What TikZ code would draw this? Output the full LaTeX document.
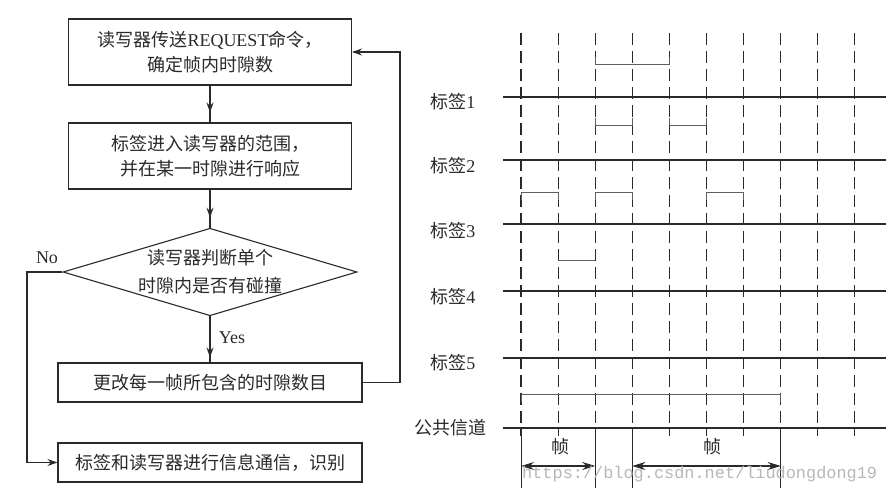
\documentclass[tikz,border=0pt]{standalone}
\usepackage{fontspec}
\setmainfont{Liberation Serif}
\newfontfamily\cjk{Noto Sans CJK SC}
\newfontfamily\wmfont{Liberation Mono}
\usetikzlibrary{shapes.geometric,arrows.meta}
\definecolor{ink}{HTML}{2A2A2A}
\definecolor{pulsec}{HTML}{606060}
\begin{document}
\begin{tikzpicture}[x=1pt,y=-1pt,
  box/.style={draw=ink, line width=1.1pt, inner sep=0pt, align=center, text=ink,
              font=\fontsize{18}{25}\selectfont},
  dia/.style={diamond, draw=ink, line width=1.1pt, inner sep=0pt, aspect=3.36,
              minimum width=292pt, minimum height=87pt, align=center, text=ink,
              font=\fontsize{18}{28}\selectfont},
  conn/.style={draw=ink, line width=1.1pt},
  tip/.style={-{Stealth[length=10pt,width=7pt]}},
  lab/.style={text=ink, font=\fontsize{18}{20}\selectfont},
  grid/.style={draw=ink, line width=1.1pt, dash pattern=on 12pt off 6pt},
  sig/.style={draw=ink, line width=2.3pt},
  pulse/.style={draw=pulsec, line width=1pt},
  tlab/.style={anchor=east, text=ink, font=\fontsize{18}{20}\selectfont},
  frm/.style={draw=ink, line width=1.2pt, {Stealth[length=13pt,width=8pt]}-{Stealth[length=13pt,width=8pt]}}
]
\useasboundingbox[fill=white] (0,0) rectangle (886,492);

% ---------------- flowchart ----------------
\node[box, minimum width=283pt, minimum height=66pt] (b1) at (210,52)
  {{\cjk 读写器传送}REQUEST{\cjk 命令，}\\{\cjk 确定帧内时隙数}};
\node[box, minimum width=283pt, minimum height=66pt] (b2) at (210,156)
  {{\cjk 标签进入读写器的范围，}\\{\cjk 并在某一时隙进行响应}};
\node[dia] (d) at (210,272)
  {{\cjk 读写器判断单个}\\{\cjk 时隙内是否有碰撞}};
\node[box, minimum width=304pt, minimum height=39pt] (b3) at (210,382.5)
  {{\cjk 更改每一帧所包含的时隙数目}};
\node[box, minimum width=304pt, minimum height=39pt] (b4) at (210,462.5)
  {{\cjk 标签和读写器进行信息通信，识别}};

\draw[conn] (b1.south) -- (b2.north);
\draw[conn,tip] (b1.south) -- ([yshift=10pt]b2.north);
\draw[conn] (b2.south) -- (d.north);
\draw[conn,tip] (b2.south) -- ([yshift=10pt]d.north);
\draw[conn] (d.south) -- (b3.north);
\draw[conn,tip] (d.south) -- ([yshift=5pt]b3.north);

\coordinate (lr) at (400,0);
\draw[conn,tip] (b3.east) -- (b3.east -| lr) -- (b1.east -| lr) -- (b1.east);
\coordinate (nl) at (27,0);
\draw[conn,tip] (d.west) -- (d.west -| nl) -- (b4.west -| nl) -- (b4.west);

\node[lab] (no) at (47,258) {No};
\node[lab] (yes) at (232,338) {Yes};

% ---------------- timing diagram ----------------
\foreach \xx in {521,558.1,595.2,632.3,669.4,706.5,743.6,780.7,817.8,854.9}
  \draw[grid] (\xx,33) -- (\xx,436);
\foreach \xx in {521,595.2,632.3,780.7}
  \draw[conn,line width=1pt] (\xx,428) -- (\xx,488);

\foreach \yy in {97,160,224,291,358,428}
  \draw[sig] (503,\yy) -- (886,\yy);

\node[tlab] (t1) at (479,102) {{\cjk 标签}1};
\node[tlab] (t2) at (479,166) {{\cjk 标签}2};
\node[tlab] (t3) at (479,231) {{\cjk 标签}3};
\node[tlab] (t4) at (479,297) {{\cjk 标签}4};
\node[tlab] (t5) at (479,363) {{\cjk 标签}5};
\node[tlab] (tc) at (490,428) {{\cjk 公共信道}};

% pulses
\draw[pulse] (595.2,57) -- (595.2,65) -- (669.4,65) -- (669.4,57);
\draw[pulse] (595.2,118) -- (595.2,126) -- (632.3,126) -- (632.3,118);
\draw[pulse] (669.4,118) -- (669.4,126) -- (706.5,126) -- (706.5,118);
\draw[pulse] (521,200) -- (521,192) -- (558.1,192) -- (558.1,200);
\draw[pulse] (595.2,200) -- (595.2,192) -- (632.3,192) -- (632.3,200);
\draw[pulse] (706.5,200) -- (706.5,192) -- (743.6,192) -- (743.6,200);
\draw[pulse] (558.1,260) -- (595.2,260);
\draw[pulse] (521,402) -- (521,394) -- (780.7,394) -- (780.7,402);

% frames
\draw[frm] (521,466) -- (595.2,466);
\draw[frm] (632.3,466) -- (780.7,466);
\node[lab] (f1) at (560,447) {\cjk 帧};
\node[lab] (f2) at (712,447) {\cjk 帧};

% watermark
\node[anchor=base west, inner sep=0pt, text=black!28, font=\wmfont\fontsize{16.9}{17}\selectfont]
  (wm) at (522,478) {https://blog.csdn.net/liudongdong19};
\end{tikzpicture}
\end{document}
